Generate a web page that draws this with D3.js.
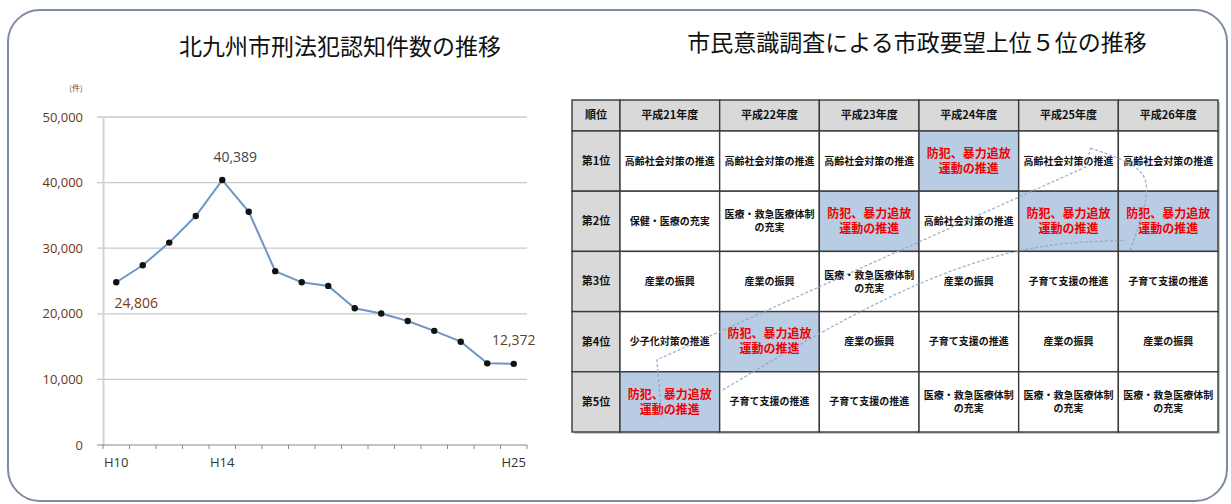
<!DOCTYPE html>
<html>
<head>
<meta charset="utf-8">
<script src="https://cdn.jsdelivr.net/npm/d3@7"></script>
<style>
  body { margin: 0; background: #fff; }
  text { font-family: "Noto Sans CJK JP", "Noto Sans", sans-serif; }
  .num { font-family: "Open Sans", "Liberation Sans", sans-serif; }
</style>
</head>
<body>
<div id="chart"></div>
<script>
// Line chart data (刑法犯認知件数)
const years = ["H10","H11","H12","H13","H14","H15","H16","H17","H18","H19","H20","H21","H22","H23","H24","H25"];
const crimes = [24806, 27400, 30850, 34900, 40389, 35550, 26500, 24800, 24250, 20850, 20050, 18900, 17400, 15750, 12450, 12372];
const shownYears = ["H10", "H14", "H25"];
const labelledYears = ["H10", "H14", "H25"];
const yTicks = [0, 10000, 20000, 30000, 40000, 50000];

// Table data (市政要望上位5位)
const surveyYears = ["平成21年度","平成22年度","平成23年度","平成24年度","平成25年度","平成26年度"];
const ranks = ["第1位","第2位","第3位","第4位","第5位"];
const H21 = ["高齢社会対策の推進","保健・医療の充実","産業の振興","少子化対策の推進","防犯、暴力追放\n運動の推進"];
const H22 = ["高齢社会対策の推進","医療・救急医療体制\nの充実","産業の振興","防犯、暴力追放\n運動の推進","子育て支援の推進"];
const H23 = ["高齢社会対策の推進","防犯、暴力追放\n運動の推進","医療・救急医療体制\nの充実","産業の振興","子育て支援の推進"];
const H24 = ["防犯、暴力追放\n運動の推進","高齢社会対策の推進","産業の振興","子育て支援の推進","医療・救急医療体制\nの充実"];
const H25 = ["高齢社会対策の推進","防犯、暴力追放\n運動の推進","子育て支援の推進","産業の振興","医療・救急医療体制\nの充実"];
const H26 = ["高齢社会対策の推進","防犯、暴力追放\n運動の推進","子育て支援の推進","産業の振興","医療・救急医療体制\nの充実"];
const surveyColumns = [H21, H22, H23, H24, H25, H26];
const focusItem = "防犯、暴力追放\n運動の推進";

const width = 1231, height = 504;

const svg = d3.select("#chart")
  .append("svg")
  .attr("width", width)
  .attr("height", height);

// outer frame
svg.append("rect")
  .attr("x", 8).attr("y", 10)
  .attr("width", 1219).attr("height", 491)
  .attr("rx", 32)
  .attr("fill", "#fff")
  .attr("stroke", "#7d8ca3")
  .attr("stroke-width", 2);

// ---------- Left: line chart ----------
const x = d3.scaleBand().domain(years).range([103, 527]);
const y = d3.scaleLinear().domain([0, 50000]).range([445, 117]);

svg.append("text")
  .attr("x", 340).attr("y", 55)
  .attr("text-anchor", "middle")
  .attr("font-size", 23)
  .attr("fill", "#111")
  .text("北九州市刑法犯認知件数の推移");

// gridlines
svg.append("g")
  .selectAll("line")
  .data(yTicks.filter(d => d > 0))
  .join("line")
  .attr("x1", 97).attr("x2", 527)
  .attr("y1", d => y(d)).attr("y2", d => y(d))
  .attr("stroke", "#c9c9c9")
  .attr("stroke-width", 1.3);

// y axis
const yAxis = svg.append("g")
  .attr("transform", "translate(103,0)")
  .call(d3.axisLeft(y).tickValues(yTicks).tickSize(0).tickPadding(20).tickFormat(d3.format(",")));
yAxis.select(".domain").attr("stroke", "#d3d3d3").attr("stroke-width", 2);
yAxis.selectAll("text")
  .attr("class", "num")
  .attr("font-size", 13)
  .attr("fill", "#6b3514");

svg.append("text")
  .attr("x", 76).attr("y", 91)
  .attr("text-anchor", "middle")
  .attr("font-size", 8)
  .attr("fill", "#7a3a3a")
  .text("(件)");

// x axis with ticks at band edges
const xAxisG = svg.append("g").attr("transform", "translate(0,445)");
xAxisG.append("line")
  .attr("x1", 97).attr("x2", 527)
  .attr("stroke", "#888").attr("stroke-width", 1.2);
xAxisG.selectAll(".tick")
  .data(years.concat(["end"]))
  .join("line")
  .attr("x1", (d, i) => i < years.length ? x(d) : x.range()[1])
  .attr("x2", (d, i) => i < years.length ? x(d) : x.range()[1])
  .attr("y1", 0).attr("y2", 4)
  .attr("stroke", "#888");
xAxisG.selectAll("text")
  .data(shownYears)
  .join("text")
  .attr("class", "num")
  .attr("x", d => x(d) + x.bandwidth() / 2)
  .attr("y", 22)
  .attr("text-anchor", "middle")
  .attr("font-size", 13)
  .attr("fill", "#333")
  .text(d => d);

// line
const lineGenerator = d3.line()
  .x((d, i) => x(years[i]) + x.bandwidth() / 2)
  .y(d => y(d));

svg.append("path")
  .datum(crimes)
  .attr("d", lineGenerator)
  .attr("fill", "none")
  .attr("stroke", "#6f95c6")
  .attr("stroke-width", 2);

svg.append("g")
  .selectAll("circle")
  .data(crimes)
  .join("circle")
  .attr("cx", (d, i) => x(years[i]) + x.bandwidth() / 2)
  .attr("cy", d => y(d))
  .attr("r", 3.2)
  .attr("fill", "#111");

// data labels
const labelStyle = {
  H10: { dx: 20, dy: 26, color: "#7b3a12" },
  H14: { dx: 13, dy: -18, color: "#444" },
  H25: { dx: 0, dy: -19, color: "#5c4325" }
};
svg.append("g")
  .selectAll("text")
  .data(labelledYears)
  .join("text")
  .attr("class", "num")
  .attr("x", d => x(d) + x.bandwidth() / 2 + labelStyle[d].dx)
  .attr("y", d => y(crimes[years.indexOf(d)]) + labelStyle[d].dy)
  .attr("text-anchor", "middle")
  .attr("font-size", 14)
  .attr("fill", d => labelStyle[d].color)
  .text(d => d3.format(",")(crimes[years.indexOf(d)]));

// ---------- Right: table ----------
svg.append("text")
  .attr("x", 917).attr("y", 51)
  .attr("text-anchor", "middle")
  .attr("font-size", 23)
  .attr("fill", "#111")
  .text("市民意識調査による市政要望上位５位の推移");

const colX = d3.scaleBand().domain(surveyYears).range([620, 1218]);
const rowY = d3.scaleBand().domain(ranks).range([131, 432]);
const tableLeft = 572, headTop = 100;

const table = svg.append("g");

// shadow
table.append("rect")
  .attr("x", tableLeft + 2).attr("y", headTop + 2)
  .attr("width", 1218 - tableLeft).attr("height", 432 - headTop)
  .attr("fill", "#c8c8c8");

const cells = [];
cells.push({ x: tableLeft, y: headTop, w: 620 - tableLeft, h: 131 - headTop, text: "順位", kind: "head" });
surveyYears.forEach(yr => cells.push({ x: colX(yr), y: headTop, w: colX.bandwidth(), h: 131 - headTop, text: yr, kind: "head" }));
ranks.forEach(r => cells.push({ x: tableLeft, y: rowY(r), w: 620 - tableLeft, h: rowY.bandwidth(), text: r, kind: "head" }));
surveyColumns.forEach((col, ci) => {
  col.forEach((item, ri) => {
    cells.push({
      x: colX(surveyYears[ci]), y: rowY(ranks[ri]),
      w: colX.bandwidth(), h: rowY.bandwidth(),
      text: item, kind: item === focusItem ? "focus" : "body"
    });
  });
});

const fillFor = { head: "#d9d9d9", focus: "#b8cce4", body: "#fff" };

table.selectAll("rect.cell")
  .data(cells)
  .join("rect")
  .attr("class", "cell")
  .attr("x", d => d.x).attr("y", d => d.y)
  .attr("width", d => d.w).attr("height", d => d.h)
  .attr("fill", d => fillFor[d.kind])
  .attr("stroke", "#3a3a3a")
  .attr("stroke-width", 1.4);

// dotted trend arrow for 防犯、暴力追放運動の推進
const cellCenter = (ci, ri) => [colX(surveyYears[ci]) + colX.bandwidth() / 2, rowY(ranks[ri]) + rowY.bandwidth() / 2];
const startCell = cellCenter(0, H21.indexOf(focusItem));
const midCell = cellCenter(4, H25.indexOf(focusItem));
const topCell = cellCenter(4, 0);
const lastCell = cellCenter(5, H26.indexOf(focusItem));
const off = (p, dx, dy) => [p[0] + dx, p[1] + dy];

const band = svg.append("g")
  .attr("fill", "none")
  .attr("stroke", "#8fa7c4")
  .attr("stroke-width", 1.3)
  .attr("stroke-dasharray", "3,2")
  .attr("opacity", 0.85);
// main fat arrow, upper edge and left cap
band.append("path")
  .attr("d", d3.line()([
    off(startCell, -8, 15),
    off(startCell, -13, -42),
    off(topCell, 17, 6),
    off(topCell, 22, -13)
  ]));
// lower edge
band.append("path")
  .attr("d", d3.line().curve(d3.curveMonotoneX)([
    off(startCell, 53, -12),
    off(midCell, -18, 24),
    off(midCell, 57, 19)
  ]));
// turn down into 平成26年度
band.append("path")
  .attr("d", d3.line().curve(d3.curveBasis)([
    off(topCell, 22, -13),
    off(topCell, 60, 0),
    off(lastCell, -13, -41),
    off(lastCell, -38, 29)
  ]));

// cell texts
const textG = table.append("g");
cells.forEach(d => {
  const lines = d.text.split("\n");
  const isFocus = d.kind === "focus";
  const fs = isFocus ? 12 : (d.kind === "head" ? 11 : 10);
  const lh = isFocus ? 15 : 13;
  const cy = d.y + d.h / 2;
  lines.forEach((ln, i) => {
    textG.append("text")
      .attr("x", d.x + d.w / 2)
      .attr("y", cy + (i - (lines.length - 1) / 2) * lh)
      .attr("dy", "0.35em")
      .attr("text-anchor", "middle")
      .attr("font-size", fs)
      .attr("font-weight", "bold")
      .attr("fill", isFocus ? "#f00000" : "#111")
      .text(ln);
  });
});
</script>
</body>
</html>
